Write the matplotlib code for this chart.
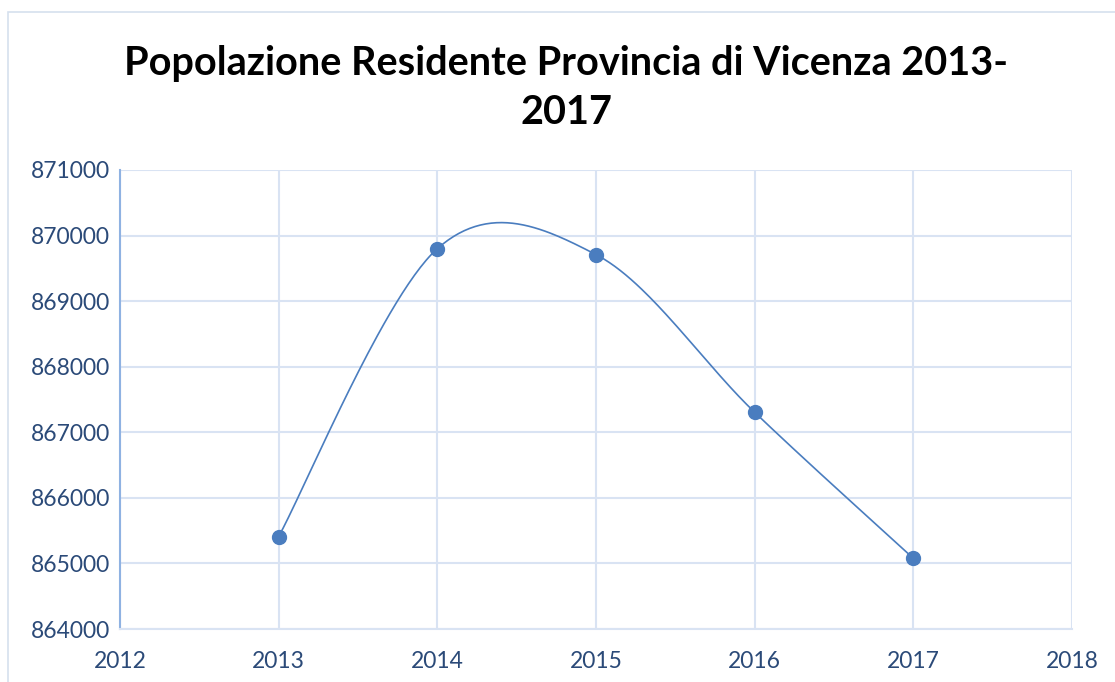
import numpy as np
import matplotlib.pyplot as plt
from matplotlib.patches import Rectangle

# data
anni = [2013, 2014, 2015, 2016, 2017]
popolazione = [865410, 869800, 869710, 867305, 865078]
xticks = [2012, 2013, 2014, 2015, 2016, 2017, 2018]
yticks = [864000, 865000, 866000, 867000, 868000, 869000, 870000, 871000]
titolo = "Popolazione Residente Provincia di Vicenza 2013-\n2017"


def smooth(xs, ys, n=60):
    # Excel-like smoothed line (Catmull-Rom, endpoints repeated)
    xs = np.asarray(xs, float)
    ys = np.asarray(ys, float)
    px = np.concatenate([[xs[0]], xs, [xs[-1]]])
    py = np.concatenate([[ys[0]], ys, [ys[-1]]])
    ox, oy = [], []
    for i in range(1, len(px) - 2):
        t = np.linspace(0, 1, n)
        h00 = 2 * t**3 - 3 * t**2 + 1
        h10 = t**3 - 2 * t**2 + t
        h01 = -2 * t**3 + 3 * t**2
        h11 = t**3 - t**2
        mx0 = (px[i + 1] - px[i - 1]) / 2
        mx1 = (px[i + 2] - px[i]) / 2
        my0 = (py[i + 1] - py[i - 1]) / 2
        my1 = (py[i + 2] - py[i]) / 2
        ox.append(h00 * px[i] + h10 * mx0 + h01 * px[i + 1] + h11 * mx1)
        oy.append(h00 * py[i] + h10 * my0 + h01 * py[i + 1] + h11 * my1)
    return np.concatenate(ox), np.concatenate(oy)


plt.rcParams['font.family'] = ['Lato', 'DejaVu Sans']

W, H = 1115, 682
fig = plt.figure(figsize=(W / 100, H / 100), dpi=100)
fig.patches.append(Rectangle((8 / W, -0.1), 1.2, (H - 12) / H + 0.1,
                             transform=fig.transFigure, fill=False,
                             ec='#d6e0ee', lw=1.2))

ax = fig.add_axes([120 / W, 1 - 629 / H, (1072 - 120) / W, (629 - 170) / H])
grid_c = '#d9e3f3'
tick_c = '#2b4a78'

sx, sy = smooth(anni, popolazione)
ax.plot(sx, sy, color='#4a7dbf', lw=1.2, zorder=3)
ax.plot(anni, popolazione, 'o', color='#4a7dbf', ms=10, zorder=4)

ax.set_xlim(2012, 2018)
ax.set_ylim(864000, 871000)
ax.set_xticks(xticks)
ax.set_yticks(yticks)
ax.set_xticklabels([str(v) for v in xticks])
ax.set_yticklabels([str(v) for v in yticks])
ax.grid(True, color=grid_c, lw=1.5)
ax.set_axisbelow(True)
for s in ['top', 'right']:
    ax.spines[s].set_visible(False)
ax.spines['bottom'].set_color(grid_c)
ax.spines['bottom'].set_linewidth(1.5)
ax.spines['left'].set_color('#8fb2e2')
ax.spines['left'].set_linewidth(1.5)
ax.tick_params(length=0, labelsize=16.5, colors=tick_c, pad=7)
ax.tick_params(axis='x', pad=16)

fig.text(0.508, 1 - 88 / H, titolo, ha='center', va='center',
         fontsize=28.5, fontweight='bold', color='black', linespacing=1.4)

fig.savefig('out.png', dpi=100, facecolor='white')
